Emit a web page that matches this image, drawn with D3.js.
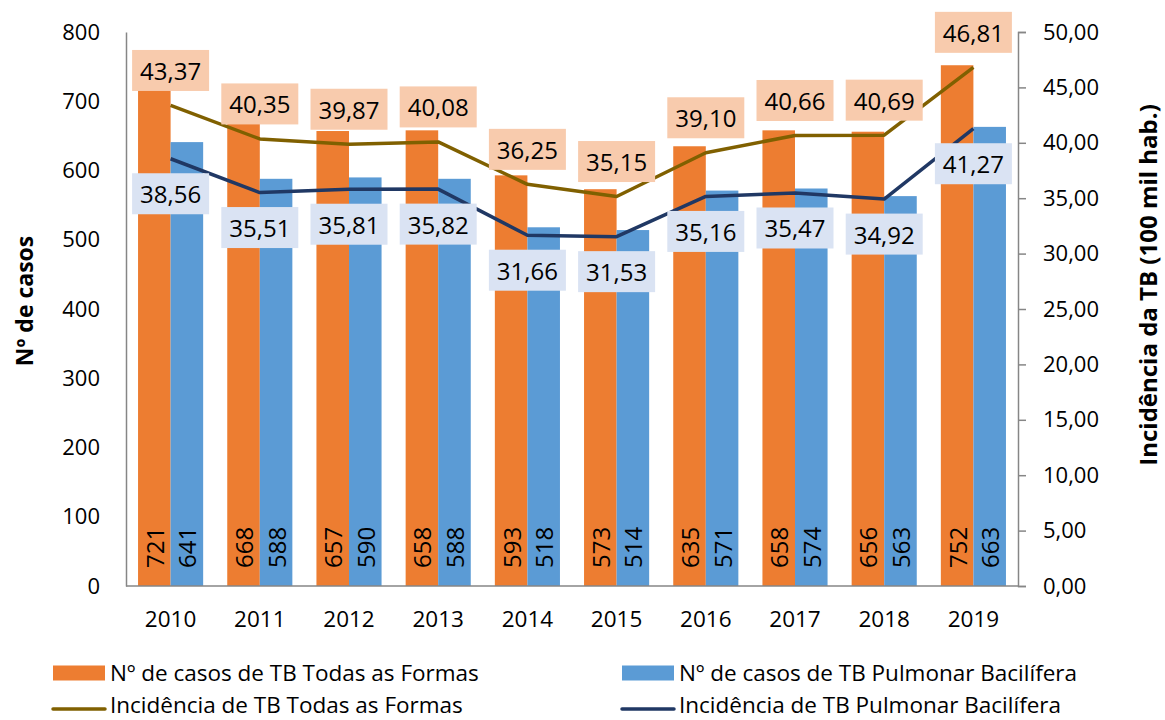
<!DOCTYPE html>
<html>
<head>
<meta charset="utf-8">
<script src="https://cdn.jsdelivr.net/npm/d3@7"></script>
<style>
  body { margin: 0; background: #fff; }
  text { font-family: "Open Sans", sans-serif; fill: #000; }
</style>
</head>
<body>
<script>
const w = 1165; // width
const h = 720; // height

// data
const years = ["2010", "2011", "2012", "2013", "2014", "2015", "2016", "2017", "2018", "2019"];
const casosTodas = [721, 668, 657, 658, 593, 573, 635, 658, 656, 752];
const casosPulmonar = [641, 588, 590, 588, 518, 514, 571, 574, 563, 663];
const incTodas = [43.37, 40.35, 39.87, 40.08, 36.25, 35.15, 39.10, 40.66, 40.69, 46.81];
const incPulmonar = [38.56, 35.51, 35.81, 35.82, 31.66, 31.53, 35.16, 35.47, 34.92, 41.27];
const leftTicks = [0, 100, 200, 300, 400, 500, 600, 700, 800];
const rightTicks = [0, 5, 10, 15, 20, 25, 30, 35, 40, 45, 50];

const cOrange = "#ED7D31", cBlue = "#5B9BD5";
const cGold = "#806000", cNavy = "#203864";
const cOrangeLbl = "#F8CBAD", cBlueLbl = "#DAE3F3";

// plot area
const pLeft = 126, pRight = 1018, pTop = 32, pBottom = 586;

let svg = d3.select("body")
    .append("svg")
    .attr("width", w)
    .attr("height", h);

// scales
let x0 = d3.scaleBand()
    .domain(years)
    .range([pLeft, pRight])
    .paddingInner(0.27)
    .paddingOuter(0.135);

let x1 = d3.scaleBand()
    .domain(["todas", "pulmonar"])
    .range([0, x0.bandwidth()]);

let yL = d3.scaleLinear().domain([0, 800]).range([pBottom, pTop]);
let yR = d3.scaleLinear().domain([0, 50]).range([pBottom, pTop]);

const fmt = (v) => d3.format(".2f")(v).replace(".", ",");
const cx = (yr) => x0(yr) + x0.bandwidth() / 2;

// bars
const barSeries = [
    { key: "todas", vals: casosTodas, color: cOrange },
    { key: "pulmonar", vals: casosPulmonar, color: cBlue }
];

barSeries.forEach((s) => {
    svg.append("g")
        .selectAll("rect")
        .data(years)
        .enter()
        .append("rect")
        .attr("x", (d) => x0(d) + x1(s.key))
        .attr("width", x1.bandwidth())
        .attr("y", (d, i) => yL(s.vals[i]))
        .attr("height", (d, i) => pBottom - yL(s.vals[i]))
        .attr("fill", s.color);

    // vertical value labels at bar base
    svg.append("g")
        .selectAll("text")
        .data(years)
        .enter()
        .append("text")
        .attr("transform", (d) => `translate(${x0(d) + x1(s.key) + x1.bandwidth() / 2},${pBottom - 18}) rotate(-90)`)
        .attr("dominant-baseline", "central")
        .attr("text-anchor", "start")
        .style("font-size", "24px")
        .text((d, i) => s.vals[i]);
});

// axes
let axisL = d3.axisLeft(yL).tickValues(leftTicks).tickSize(0).tickPadding(26);
let gL = svg.append("g")
    .attr("transform", `translate(${pLeft},0)`)
    .call(axisL);

let axisR = d3.axisRight(yR).tickValues(rightTicks).tickSize(8).tickPadding(17).tickFormat(fmt);
let gR = svg.append("g")
    .attr("transform", `translate(${pRight},0)`)
    .call(axisR);

let axisB = d3.axisBottom(x0).tickSize(0).tickPadding(25);
let gB = svg.append("g")
    .attr("transform", `translate(0,${pBottom})`)
    .call(axisB);

[gL, gR, gB].forEach((g) => {
    g.select(".domain").attr("stroke", "#868686").attr("stroke-width", 1.5);
    g.selectAll(".tick line").attr("stroke", "#868686").attr("stroke-width", 1.5);
    g.selectAll(".tick text")
        .style("font-family", "'Open Sans', sans-serif")
        .style("font-size", "22px")
        .attr("fill", "#000");
});
gB.select(".domain").attr("d", `M${pLeft},0H${pRight}`);
gB.selectAll(".tick text").style("font-size", "22.5px");

// lines
const lineSeries = [
    { vals: incTodas, color: cGold, lbl: cOrangeLbl, dy: -35 },
    { vals: incPulmonar, color: cNavy, lbl: cBlueLbl, dy: 35 }
];

let line = d3.line()
    .x((d) => cx(d.year))
    .y((d) => yR(d.v));

lineSeries.forEach((s) => {
    let pts = years.map((yr, i) => ({ year: yr, v: s.vals[i] }));
    svg.append("path")
        .datum(pts)
        .attr("d", line)
        .attr("fill", "none")
        .attr("stroke", s.color)
        .attr("stroke-width", 3.5)
        .attr("stroke-linejoin", "round");
});

// data label boxes (drawn after both lines)
lineSeries.forEach((s) => {
    let g = svg.append("g")
        .selectAll("g")
        .data(years)
        .enter()
        .append("g")
        .attr("transform", (d, i) => `translate(${cx(d)},${yR(s.vals[i]) + s.dy})`);
    g.append("rect")
        .attr("x", -38.5)
        .attr("y", -20.5)
        .attr("width", 77)
        .attr("height", 41)
        .attr("fill", s.lbl);
    g.append("text")
        .attr("text-anchor", "middle")
        .attr("dominant-baseline", "central")
        .attr("y", 0)
        .style("font-size", "24px")
        .text((d, i) => fmt(s.vals[i]));
});

// axis titles
svg.append("text")
    .attr("transform", `translate(24,301) rotate(-90)`)
    .attr("text-anchor", "middle")
    .attr("dominant-baseline", "central")
    .style("font-size", "23px")
    .style("font-weight", "bold")
    .text("Nº de casos");

svg.append("text")
    .attr("transform", `translate(1147,285) rotate(-90)`)
    .attr("text-anchor", "middle")
    .attr("dominant-baseline", "central")
    .style("font-size", "24px")
    .style("font-weight", "bold")
    .text("Incidência da TB (100 mil hab.)");

// legend
const legendItems = [
    { label: "Nº de casos de TB Todas as Formas", color: cOrange, type: "rect", x: 53, y: 672 },
    { label: "Nº de casos de TB Pulmonar Bacilífera", color: cBlue, type: "rect", x: 622, y: 672 },
    { label: "Incidência de TB Todas as Formas", color: cGold, type: "line", x: 53, y: 704 },
    { label: "Incidência de TB Pulmonar Bacilífera", color: cNavy, type: "line", x: 622, y: 704 }
];

let lg = svg.append("g")
    .selectAll("g")
    .data(legendItems)
    .enter()
    .append("g")
    .attr("transform", (d) => `translate(${d.x},${d.y})`);

lg.filter((d) => d.type === "rect")
    .append("rect")
    .attr("x", 0).attr("y", -6.5)
    .attr("width", 52).attr("height", 15)
    .attr("fill", (d) => d.color);

lg.filter((d) => d.type === "line")
    .append("line")
    .attr("x1", 0).attr("x2", 52)
    .attr("y1", 5).attr("y2", 5)
    .attr("stroke", (d) => d.color)
    .attr("stroke-width", 3.5)
    .attr("stroke-linecap", "round");

lg.append("text")
    .attr("x", 57)
    .attr("dominant-baseline", "central")
    .style("font-size", "22.5px")
    .text((d) => d.label);
</script>
</body>
</html>
